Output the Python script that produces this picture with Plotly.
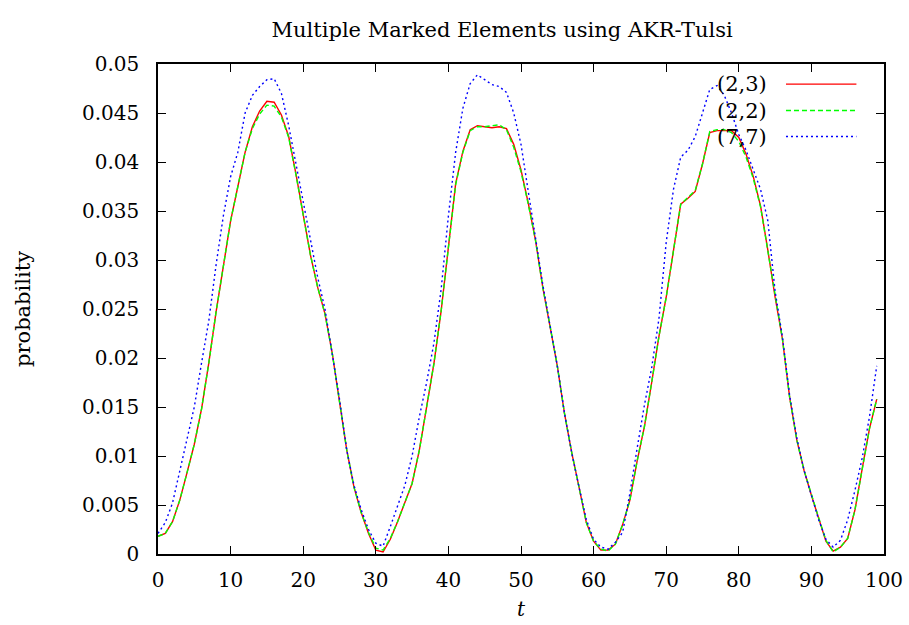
import plotly.graph_objects as go

t = list(range(100))

p23 = [0.0018, 0.0021, 0.0033, 0.0055, 0.0083, 0.0112, 0.0148, 0.0195, 0.0247, 0.0295,
       0.0340, 0.0375, 0.0410, 0.0436, 0.0452, 0.0462, 0.0461, 0.0448, 0.0426, 0.0388,
       0.0345, 0.0305, 0.0272, 0.0245, 0.0205, 0.0155, 0.0106, 0.0068, 0.0042, 0.0021,
       0.0004, 0.0002, 0.0015, 0.0033, 0.0052, 0.0072, 0.0106, 0.0148, 0.0194, 0.0248,
       0.0315, 0.0378, 0.0411, 0.0433, 0.0437, 0.0436, 0.0435, 0.0436, 0.0434, 0.0418,
       0.0392, 0.0358, 0.0320, 0.0272, 0.0233, 0.0192, 0.0143, 0.0103, 0.0068, 0.0032,
       0.0013, 0.0004, 0.0004, 0.0010, 0.0030, 0.0055, 0.0095, 0.0130, 0.0175, 0.0222,
       0.0262, 0.0312, 0.0357, 0.0363, 0.0370, 0.0398, 0.0430, 0.0432, 0.0432, 0.0432,
       0.0425, 0.0408, 0.0385, 0.0355, 0.0310, 0.0262, 0.0220, 0.0160, 0.0116, 0.0085,
       0.0060, 0.0037, 0.0013, 0.0003, 0.0007, 0.0016, 0.0045, 0.0087, 0.0128, 0.0158]

p22 = [0.0018, 0.0021, 0.0033, 0.0055, 0.0083, 0.0112, 0.0148, 0.0195, 0.0247, 0.0295,
       0.0340, 0.0375, 0.0410, 0.0434, 0.0449, 0.0458, 0.0457, 0.0446, 0.0425, 0.0387,
       0.0345, 0.0305, 0.0272, 0.0245, 0.0205, 0.0155, 0.0106, 0.0068, 0.0042, 0.0022,
       0.0006, 0.0004, 0.0016, 0.0033, 0.0052, 0.0072, 0.0106, 0.0148, 0.0194, 0.0248,
       0.0315, 0.0377, 0.0410, 0.0432, 0.0436, 0.0436, 0.0437, 0.0438, 0.0433, 0.0415,
       0.0390, 0.0357, 0.0320, 0.0272, 0.0233, 0.0192, 0.0143, 0.0103, 0.0068, 0.0032,
       0.0013, 0.0005, 0.0003, 0.0010, 0.0030, 0.0055, 0.0095, 0.0130, 0.0175, 0.0222,
       0.0262, 0.0312, 0.0357, 0.0364, 0.0371, 0.0398, 0.0431, 0.0433, 0.0433, 0.0430,
       0.0421, 0.0405, 0.0383, 0.0354, 0.0310, 0.0262, 0.0220, 0.0160, 0.0116, 0.0085,
       0.0060, 0.0037, 0.0014, 0.0002, 0.0007, 0.0016, 0.0045, 0.0087, 0.0128, 0.0158]

p77 = [0.0021, 0.0032, 0.0052, 0.0085, 0.0120, 0.0150, 0.0195, 0.0238, 0.0295, 0.0345,
       0.0385, 0.0410, 0.0450, 0.0468, 0.0477, 0.0484, 0.0485, 0.0470, 0.0437, 0.0398,
       0.0357, 0.0322, 0.0282, 0.0250, 0.0205, 0.0158, 0.0106, 0.0070, 0.0045, 0.0025,
       0.0011, 0.0008, 0.0028, 0.0048, 0.0070, 0.0100, 0.0140, 0.0175, 0.0215, 0.0270,
       0.0345, 0.0410, 0.0455, 0.0480, 0.0489, 0.0484, 0.0479, 0.0477, 0.0471, 0.0450,
       0.0418, 0.0370, 0.0322, 0.0275, 0.0233, 0.0192, 0.0143, 0.0103, 0.0068, 0.0035,
       0.0015, 0.0007, 0.0005, 0.0012, 0.0022, 0.0062, 0.0108, 0.0152, 0.0190, 0.0240,
       0.0318, 0.0372, 0.0405, 0.0412, 0.0426, 0.0450, 0.0474, 0.0478, 0.0468, 0.0450,
       0.0428, 0.0412, 0.0392, 0.0372, 0.0340, 0.0268, 0.0222, 0.0162, 0.0118, 0.0085,
       0.0060, 0.0035, 0.0015, 0.0007, 0.0014, 0.0035, 0.0065, 0.0098, 0.0140, 0.0192]

series_names = ["(2,3)", "(2,2)", "(7,7)"]
series_vals = [p23, p22, p77]
series_colors = ["#ff0000", "#00ff00", "#0000ff"]
series_dash = ["solid", "5px,3px", "2px,3px"]

x_ticks = list(range(0, 101, 10))
y_tickvals = [i * 0.005 for i in range(11)]
y_ticktext = ["0", "0.005", "0.01", "0.015", "0.02", "0.025", "0.03", "0.035", "0.04", "0.045", "0.05"]

FONT = "'DejaVu Serif', serif"

fig = go.Figure()
for name, vals, col, dash in zip(series_names, series_vals, series_colors, series_dash):
    fig.add_trace(go.Scatter(x=t, y=vals, mode="lines", name=name,
                             line=dict(color=col, width=1.4, dash=dash),
                             showlegend=False))

# gnuplot-style legend: label on left, line sample on right
leg_y = [0.959, 0.905, 0.852]
for name, col, dash, yy in zip(series_names, series_colors, series_dash, leg_y):
    fig.add_annotation(x=0.841, y=yy, xref="paper", yref="paper", text=name,
                       showarrow=False, xanchor="right", yanchor="middle",
                       font=dict(family=FONT, size=21, color="black"))
    fig.add_shape(type="line", xref="paper", yref="paper", x0=0.865, x1=0.962,
                  y0=yy, y1=yy, line=dict(color=col, width=1.4, dash=dash))

fig.add_annotation(x=-0.186, y=0.5, xref="paper", yref="paper", text="probability",
                   showarrow=False, textangle=-90, xanchor="center", yanchor="middle",
                   font=dict(family=FONT, size=21, color="black"))
fig.add_annotation(x=0.5, y=-0.141, xref="paper", yref="paper", text="<i>t</i>",
                   showarrow=False, xanchor="center", yanchor="bottom",
                   font=dict(family=FONT, size=20, color="black"))

axis_common = dict(showline=True, linecolor="black", linewidth=1.5, mirror="ticks",
                   ticks="inside", ticklen=8, tickwidth=1, tickcolor="black",
                   showgrid=False, zeroline=False, automargin=False,
                   tickfont=dict(family=FONT, size=20, color="black"))

fig.update_xaxes(range=[0, 100], tickvals=x_ticks, ticklabelstandoff=7, **axis_common)
fig.update_yaxes(range=[0, 0.05], tickvals=y_tickvals, ticktext=y_ticktext,
                 ticklabelstandoff=13, **axis_common)

fig.update_layout(
    width=909, height=625, autosize=False,
    margin=dict(l=158, r=25, t=64, b=71),
    paper_bgcolor="white", plot_bgcolor="white",
    title=dict(text="Multiple Marked Elements using AKR-Tulsi", x=0.474, xref="paper",
               xanchor="center", y=1 - 30 / 625, yref="container", yanchor="middle",
               font=dict(family=FONT, size=21, color="black")),
)

fig.write_html("out.html")
